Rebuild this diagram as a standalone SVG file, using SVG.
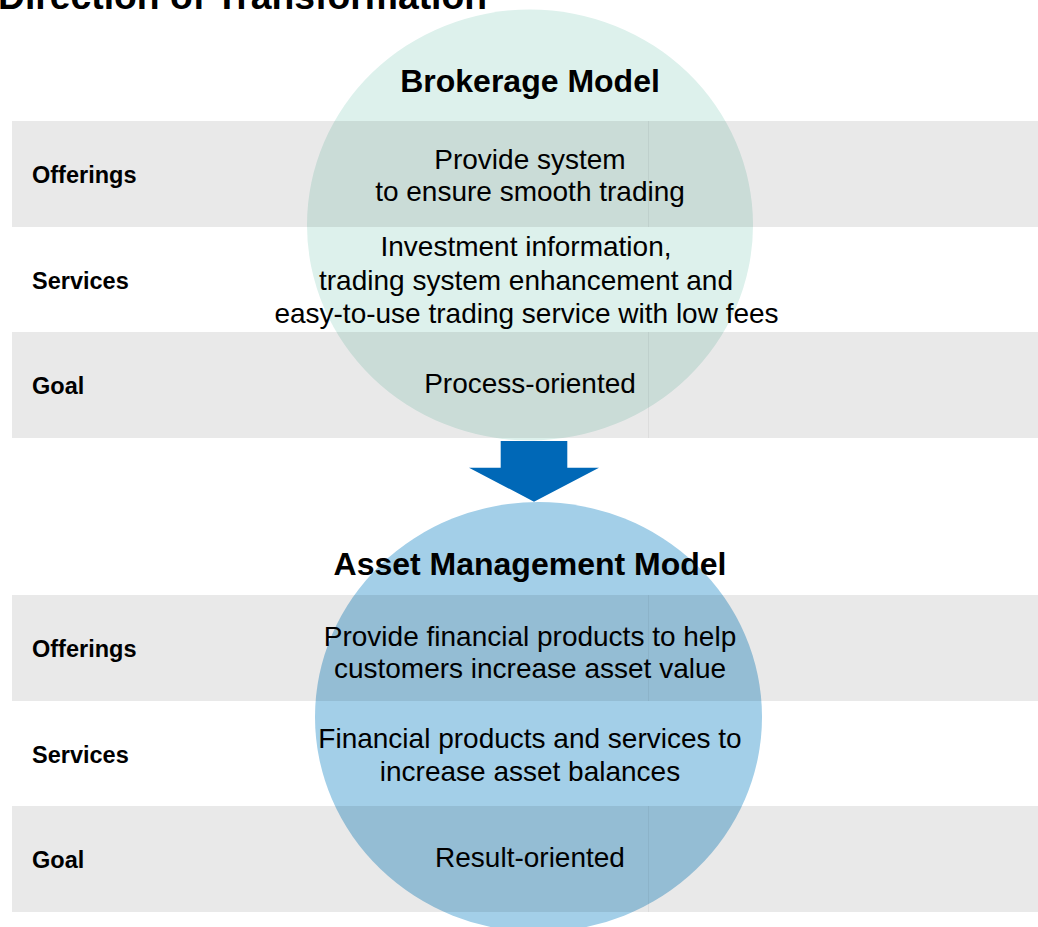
<svg xmlns="http://www.w3.org/2000/svg" width="1038" height="927" viewBox="0 0 1038 927">
<style>
.row{fill:#000;fill-opacity:0.086}
.sep{stroke:#000;stroke-opacity:0.05;stroke-width:1}
.lbl{font-family:"Liberation Sans",Arial,sans-serif;font-weight:bold;font-size:23.5px;fill:#000}
.body{font-family:"Liberation Sans",Arial,sans-serif;font-size:28px;fill:#000;text-anchor:middle}
.head{font-family:"Liberation Sans",Arial,sans-serif;font-weight:bold;font-size:32px;fill:#000;text-anchor:middle}
.title{font-family:"Liberation Sans",Arial,sans-serif;font-weight:bold;font-size:37.3px;fill:#000}
</style>
<rect width="1038" height="927" fill="#fff"/>
<text class="title" x="-2" y="9">Direction of Transformation</text>

<g id="brokerage-model">
<ellipse cx="530" cy="225" rx="223" ry="215.5" fill="#ddf1ec"/>
<text class="head" x="530" y="92">Brokerage Model</text>
</g>
<g id="asset-management-model">
<ellipse cx="538.5" cy="717" rx="223.5" ry="215" fill="#a3cfe8"/>
<text class="head" x="530" y="575">Asset Management Model</text>
</g>

<g id="top-offerings">
<rect class="row" x="12" y="121" width="1026" height="106"/>
<line class="sep" x1="648.5" y1="121" x2="648.5" y2="227"/>
<text class="lbl" x="32" y="183">Offerings</text>
<text class="body" x="530" y="169">Provide system</text>
<text class="body" x="530" y="201">to ensure smooth trading</text>
</g>
<g id="top-services">
<text class="lbl" x="32" y="289">Services</text>
<text class="body" x="526" y="256">Investment information,</text>
<text class="body" x="526" y="290">trading system enhancement and</text>
<text class="body" x="526.5" y="323">easy-to-use trading service with low fees</text>
</g>
<g id="top-goal">
<rect class="row" x="12" y="332" width="1026" height="106"/>
<line class="sep" x1="648.5" y1="332" x2="648.5" y2="438"/>
<text class="lbl" x="32" y="394">Goal</text>
<text class="body" x="530" y="393">Process-oriented</text>
</g>

<g id="bottom-offerings">
<rect class="row" x="12" y="595" width="1026" height="106"/>
<line class="sep" x1="648.5" y1="595" x2="648.5" y2="701"/>
<text class="lbl" x="32" y="657">Offerings</text>
<text class="body" x="530" y="646">Provide financial products to help</text>
<text class="body" x="530" y="678">customers increase asset value</text>
</g>
<g id="bottom-services">
<text class="lbl" x="32" y="763">Services</text>
<text class="body" x="530" y="748">Financial products and services to</text>
<text class="body" x="530" y="781">increase asset balances</text>
</g>
<g id="bottom-goal">
<rect class="row" x="12" y="806" width="1026" height="106"/>
<line class="sep" x1="648.5" y1="806" x2="648.5" y2="912"/>
<text class="lbl" x="32" y="868">Goal</text>
<text class="body" x="530" y="867">Result-oriented</text>
</g>

<g id="connectors">
<polygon points="500.7,441 567.3,441 567.3,467.7 599,467.7 534,501.7 469,467.7 500.7,467.7" fill="#0068b7"/>
</g>
</svg>
